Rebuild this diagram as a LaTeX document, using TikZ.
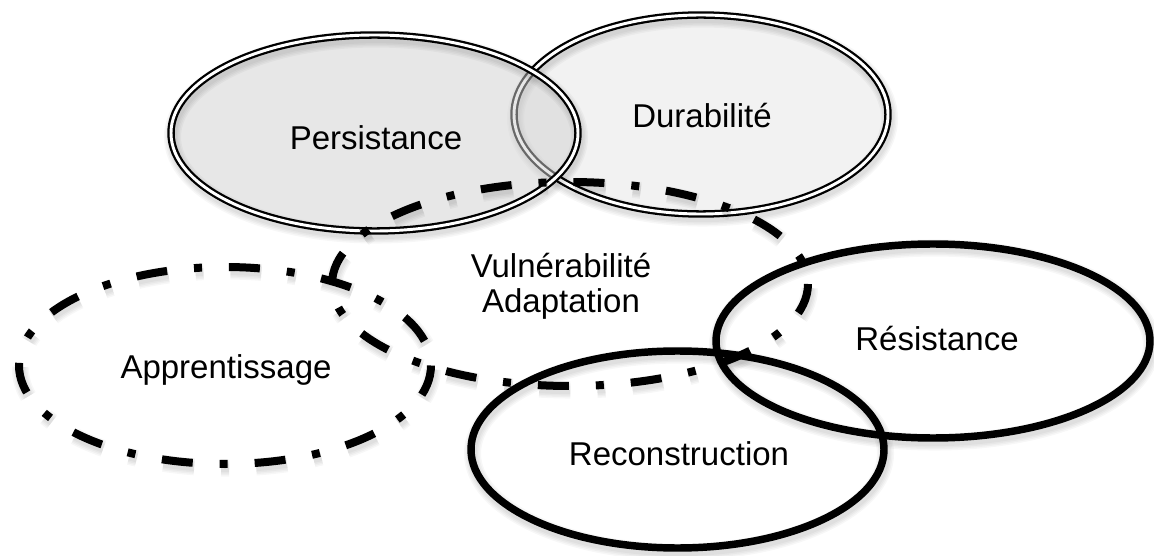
\documentclass[tikz,border=0pt]{standalone}
\usepackage{fontspec}
\setmainfont{Liberation Sans}
\newcommand{\ellshadow}[6][]{%
  \foreach \k in {1,...,4}{%
    \draw[black, draw opacity=0.03, line width=#6+\k*2.2pt, #1] (#2+1.5,#3+4) ellipse [x radius=#4, y radius=#5];
  }%
}
\begin{document}
\begin{tikzpicture}[x=0.75pt,y=-0.75pt,
  dbl/.style={draw=black, line width=1.7pt, double=white, double distance=2.2pt},
  solidring/.style={draw=black, line width=5.6pt},
  dashpat/.style={dash pattern=on 23.25pt off 20.25pt on 6pt off 20.25pt},
  dashring/.style={draw=black, line width=6pt, dashpat},
  lbl/.style={font=\fontsize{24.75}{30}\selectfont, inner sep=0pt, anchor=base}]
\useasboundingbox (0,0) rectangle (1154,556);
\fill[white] (0,0) rectangle (1154,556);

% Durabilite
\fill[black!5] (701,114.5) ellipse [x radius=187, y radius=99.5];
\ellshadow{701}{114.5}{187}{99.5}{4pt}
\draw[dbl] (701,114.5) ellipse [x radius=187, y radius=99.5];

% Persistance (semi-transparent fill over Durabilite)
\fill[black!18, fill opacity=0.5] (374.5,133) ellipse [x radius=203.5, y radius=98];
\ellshadow{374.5}{133}{203.5}{98}{4pt}
\draw[dbl] (374.5,133) ellipse [x radius=203.5, y radius=98];

% shadows of the other rings
\ellshadow[dashpat]{225}{365.5}{206}{98.5}{4pt}
\ellshadow{677.5}{449.5}{206.5}{98.5}{4pt}
\ellshadow{933}{341}{217}{97}{4pt}
\ellshadow[dashpat]{570}{284}{238}{102}{4pt}

% Apprentissage
\draw[dashring] (225,365.5) ellipse [x radius=206, y radius=98.5];
% Reconstruction
\draw[solidring] (677.5,449.5) ellipse [x radius=206.5, y radius=98.5];
% Resistance
\draw[solidring] (933,341) ellipse [x radius=217, y radius=97];
% Vulnerabilite / Adaptation
\draw[dashring] (570,284) ellipse [x radius=238, y radius=102];

% labels
\node[lbl] (pers) at (376,150) {Persistance};
\node[lbl] (dura) at (702,128) {Durabilité};
\node[lbl] (vuln) at (561,277) {Vulnérabilité};
\node[lbl] (adap) at (561,312) {Adaptation};
\node[lbl] (appr) at (226,378) {Apprentissage};
\node[lbl] (resi) at (937,350) {Résistance};
\node[lbl] (reco) at (679,465) {Reconstruction};
\end{tikzpicture}
\end{document}
